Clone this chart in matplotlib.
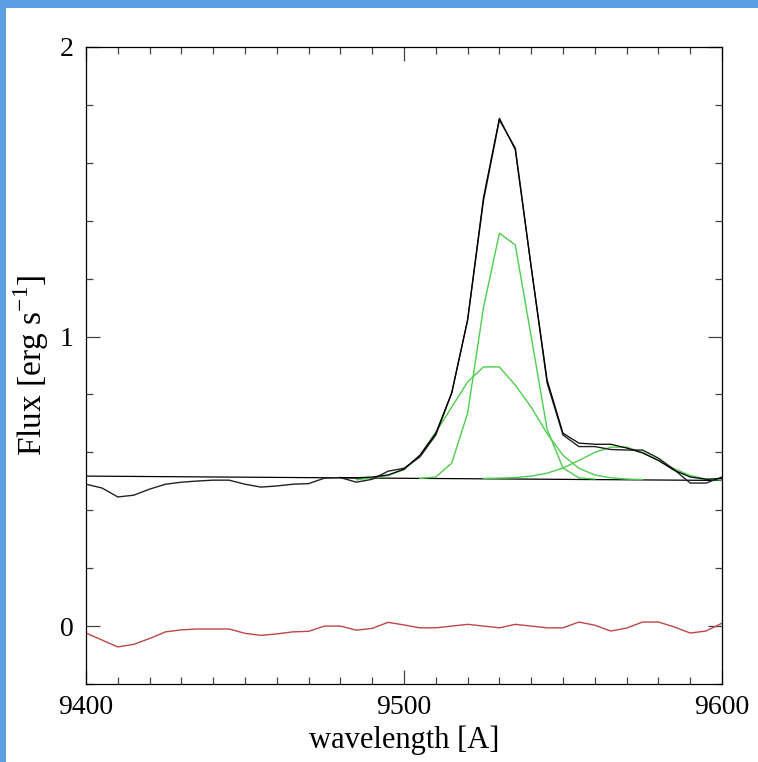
import numpy as np
import matplotlib
matplotlib.use("Agg")
import matplotlib.pyplot as plt
from matplotlib.ticker import MultipleLocator
from matplotlib.patches import Rectangle

# wavelength grid of the spectrum (5 A steps)
wl = np.arange(9400, 9605, 5)

# observed flux
flux = [0.490, 0.477, 0.446, 0.452, 0.473, 0.490, 0.497, 0.501, 0.504, 0.504,
        0.490, 0.480, 0.484, 0.490, 0.492, 0.511, 0.513, 0.497, 0.507, 0.535,
        0.545, 0.584, 0.660, 0.805, 1.057, 1.470, 1.748, 1.651, 1.240, 0.840,
        0.660, 0.620, 0.620, 0.610, 0.608, 0.608, 0.580, 0.540, 0.494, 0.494,
        0.515]

# residuals (data - model)
resid = [-0.024, -0.048, -0.072, -0.063, -0.043, -0.020, -0.013, -0.010, -0.010, -0.010,
         -0.025, -0.032, -0.027, -0.020, -0.018, 0.000, 0.000, -0.014, -0.008, 0.013,
         0.004, -0.006, -0.006, 0.000, 0.006, 0.000, -0.006, 0.006, 0.000, -0.006,
         -0.006, 0.014, 0.003, -0.017, -0.007, 0.014, 0.014, -0.003, -0.024, -0.017,
         0.010]

# total model over the line region
model_wl = np.arange(9480, 9605, 5)
model = [0.513, 0.512, 0.515, 0.522, 0.542, 0.590, 0.666, 0.805, 1.057, 1.480,
         1.754, 1.645, 1.240, 0.850, 0.666, 0.632, 0.628, 0.628, 0.615, 0.598,
         0.572, 0.538, 0.515, 0.507, 0.510]

# continuum end points
cont_wl = [9400, 9600]
cont = [0.518, 0.503]

# gaussian components (continuum included)
narrow_wl = np.arange(9505, 9565, 5)
narrow = [0.510, 0.515, 0.563, 0.735, 1.100, 1.357, 1.316, 1.000, 0.680, 0.546,
          0.512, 0.508]
broad_wl = np.arange(9485, 9580, 5)
broad = [0.505, 0.512, 0.520, 0.540, 0.590, 0.670, 0.756, 0.843, 0.895, 0.895,
         0.832, 0.756, 0.665, 0.590, 0.545, 0.522, 0.512, 0.508, 0.506]
red_wl = np.arange(9525, 9605, 5)
red_comp = [0.510, 0.511, 0.513, 0.518, 0.528, 0.546, 0.572, 0.600, 0.618, 0.618,
            0.600, 0.573, 0.543, 0.520, 0.508, 0.504]

font = 'Liberation Serif'
plt.rcParams['mathtext.fontset'] = 'custom'
plt.rcParams['mathtext.rm'] = font

green = '#4ccf4c'
blue = '#5b9fe3'
fig = plt.figure(figsize=(7.58, 7.62), dpi=100, facecolor='white')
# blue frame on the top and left edges
fig.patches.append(Rectangle((0, 1 - 8 / 762), 1, 8 / 762, transform=fig.transFigure,
                             facecolor=blue, edgecolor='none'))
fig.patches.append(Rectangle((0, 0), 6 / 758, 1, transform=fig.transFigure,
                             facecolor=blue, edgecolor='none'))

ax = fig.add_axes([86 / 758, 1 - 684 / 762, 636 / 758, 637 / 762])

ax.plot(cont_wl, cont, color='black', lw=0.9)
ax.plot(narrow_wl, narrow, color=green, lw=1.0)
ax.plot(broad_wl, broad, color=green, lw=1.0)
ax.plot(red_wl, red_comp, color=green, lw=1.0)
ax.plot(wl, flux, color='#222222', lw=1.0)
ax.plot(model_wl, model, color='black', lw=0.9)
ax.plot(wl, resid, color='#bf4646', lw=1.0)

ax.set_xlim(9400, 9600)
ax.set_ylim(-0.2, 2)
ax.xaxis.set_major_locator(MultipleLocator(100))
ax.xaxis.set_minor_locator(MultipleLocator(10))
ax.yaxis.set_major_locator(MultipleLocator(1))
ax.yaxis.set_minor_locator(MultipleLocator(0.2))
ax.tick_params(which='both', direction='in', top=True, right=True, color='#444444', width=0.9)
ax.tick_params(which='major', length=10)
ax.tick_params(which='minor', length=5)
ax.tick_params(axis='x', which='major', pad=8)
ax.tick_params(axis='y', which='major', pad=9)
for s in ax.spines.values():
    s.set_linewidth(0.9)

for lab in ax.get_xticklabels() + ax.get_yticklabels():
    lab.set_fontfamily(font)
    lab.set_fontsize(20)

ax.set_xlabel('wavelength [A]', fontfamily=font, fontsize=22, labelpad=4)
ax.set_ylabel(r'Flux [erg s$^{-1}$]', fontfamily=font, fontsize=24, labelpad=6)

fig.savefig('out.png', dpi=100)
